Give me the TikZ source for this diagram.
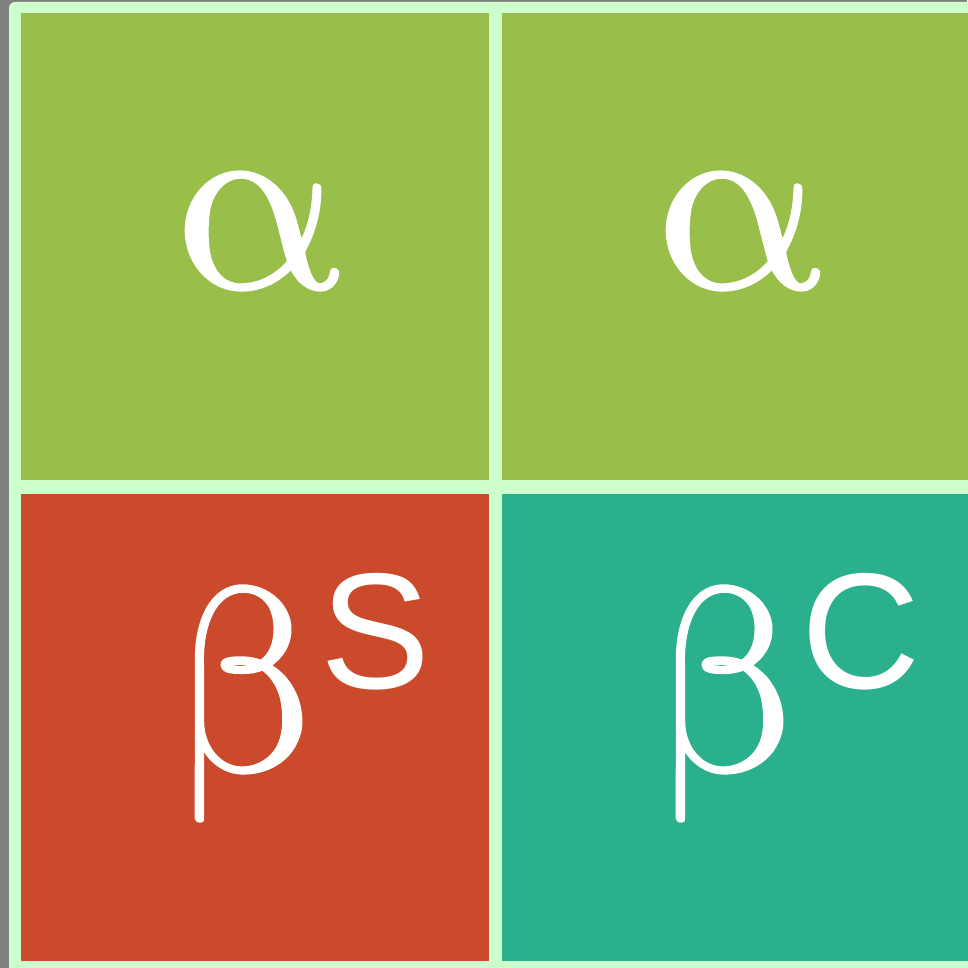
\documentclass[tikz,border=0pt]{standalone}
\usepackage{fontspec}
\usepackage{unicode-math}
\usetikzlibrary{positioning}
\setmathfont{Latin Modern Math}
\newfontfamily\supfont{Liberation Sans}
\definecolor{bggray}{RGB}{128,128,128}
\definecolor{framegreen}{RGB}{204,255,204}
\definecolor{olivecell}{RGB}{153,191,74}
\definecolor{redcell}{RGB}{202,74,43}
\definecolor{tealcell}{RGB}{42,176,140}
\newcommand{\sym}[1]{{\fontsize{262}{262}\selectfont\special{pdf:literal direct 1 1 1 RG 2 Tr 2.5 w}$\symup{#1}$\special{pdf:literal direct 0 Tr 1 w}}}
\newcommand{\supr}[1]{\rlap{\kern0pt\raisebox{82pt}{\supfont\fontsize{165}{165}\selectfont #1}}}

\begin{document}
\begin{tikzpicture}[
  x=1pt, y=1pt,
  node distance=13pt,
  cell/.style={
    minimum width=468pt,
    minimum height=467pt,
    inner sep=0pt,
    outer sep=0pt
  },
  lbl/.style={anchor=base, inner sep=0pt, text=white}
]
\useasboundingbox (0,0) rectangle (967,-968);
\fill[bggray] (0,0) rectangle (967,-968);
\fill[framegreen, rounded corners=6pt] (9,-2) rectangle (1000,-1000);

\node[cell, fill=olivecell, anchor=north west] (a) at (21,-13) {};
\node[cell, fill=olivecell, right=13pt of a] (b) {};
\node[cell, fill=redcell, below=14pt of a] (c) {};
\node[cell, fill=tealcell, right=13pt of c] (d) {};

\node[lbl] (la) at ([xshift=3pt, yshift=-41pt]a.center) {\sym{\alpha}};
\node[lbl] (lb) at ([xshift=3pt, yshift=-41pt]b.center) {\sym{\alpha}};
\node[lbl] (lc) at ([xshift=-8pt, yshift=-43pt]c.center) {\sym{\beta}\supr{S}};
\node[lbl] (ld) at ([xshift=-8pt, yshift=-43pt]d.center) {\sym{\beta}\supr{C}};
\end{tikzpicture}
\end{document}
